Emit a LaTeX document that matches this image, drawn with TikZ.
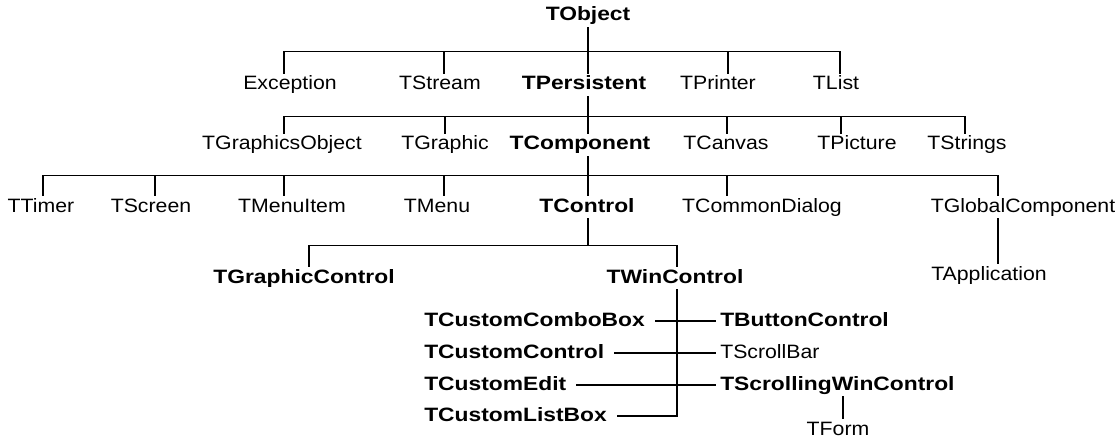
\documentclass[tikz,border=0pt]{standalone}
\usepackage{fontspec}
\setmainfont[FakeStretch=1.1, BoldFeatures={FakeStretch=1.18}]{Liberation Sans}

\begin{document}
\begin{tikzpicture}[
x=0.75pt, y=-0.75pt,
cls/.style={inner sep=1.5pt, text height=10.5pt, text depth=3pt, font=\fontsize{14.5}{17}\selectfont},
bcls/.style={cls, font=\fontsize{14.5}{17}\selectfont\bfseries},
link/.style={line width=1.1pt}
]
\useasboundingbox (0,0) rectangle (1116,442);

% level 0 and 1
\node[bcls] (tobject) at (588,16) {TObject};
\node[cls] (exception) at (290,85) {Exception};
\node[cls] (tstream) at (440,85) {TStream};
\node[bcls] (tpersistent) at (584,85) {TPersistent};
\node[cls] (tprinter) at (718,85) {TPrinter};
\node[cls] (tlist) at (836,85) {TList};

% level 2
\node[cls] (tgraphicsobject) at (282,145) {TGraphicsObject};
\node[cls] (tgraphic) at (445,145) {TGraphic};
\node[bcls] (tcomponent) at (580,145) {TComponent};
\node[cls] (tcanvas) at (726,145) {TCanvas};
\node[cls] (tpicture) at (857,145) {TPicture};
\node[cls] (tstrings) at (967,145) {TStrings};

% level 3
\node[cls] (ttimer) at (41,207) {TTimer};
\node[cls] (tscreen) at (151,207) {TScreen};
\node[cls] (tmenuitem) at (292,207) {TMenuItem};
\node[cls] (tmenu) at (437,207) {TMenu};
\node[bcls] (tcontrol) at (587,207) {TControl};
\node[cls] (tcommondialog) at (762,207) {TCommonDialog};
\node[cls] (tglobalcomponent) at (1023,207) {TGlobalComponent};

% level 4
\node[bcls] (tgraphiccontrol) at (304,278) {TGraphicControl};
\node[bcls] (twincontrol) at (675,278) {TWinControl};
\node[cls] (tapplication) at (989,275) {TApplication};

% below TWinControl
\node[bcls, anchor=west] (tcustomcombobox) at (422,321) {TCustomComboBox};
\node[bcls, anchor=west] (tcustomcontrol) at (422,353) {TCustomControl};
\node[bcls, anchor=west] (tcustomedit) at (422,385) {TCustomEdit};
\node[bcls, anchor=west] (tcustomlistbox) at (422,416) {TCustomListBox};
\node[bcls, anchor=west] (tbuttoncontrol) at (718,321) {TButtonControl};
\node[cls, anchor=west] (tscrollbar) at (718,353) {TScrollBar};
\node[bcls, anchor=west] (tscrollingwincontrol) at (718,385) {TScrollingWinControl};
\node[cls] (tform) at (838,430) {TForm};

% TObject
\draw[link] (tobject.south) -- ++(0,24) -| ([xshift=-4.5pt]exception.north);
\draw[link] (tobject.south) -- ++(0,24) -| ([xshift=3pt]tstream.north);
\draw[link] (tobject.south) -- ([xshift=3pt]tpersistent.north);
\draw[link] (tobject.south) -- ++(0,24) -| ([xshift=7.5pt]tprinter.north);
\draw[link] (tobject.south) -- ++(0,24) -| ([xshift=3pt]tlist.north);

% TPersistent
\draw[link] ([xshift=3pt]tpersistent.south) -- ++(0,20) -| ([xshift=1.5pt]tgraphicsobject.north);
\draw[link] ([xshift=3pt]tpersistent.south) -- ++(0,20) -| (tgraphic.north);
\draw[link] ([xshift=3pt]tpersistent.south) -- ++(0,20) -| ([xshift=6pt]tcomponent.north);
\draw[link] ([xshift=3pt]tpersistent.south) -- ++(0,20) -| ([xshift=0.75pt]tcanvas.north);
\draw[link] ([xshift=3pt]tpersistent.south) -- ++(0,20) -| ([xshift=-12pt]tpicture.north);
\draw[link] ([xshift=3pt]tpersistent.south) -- ++(0,20) -| ([xshift=-1.5pt]tstrings.north);

% TComponent
\draw[link] ([xshift=6pt]tcomponent.south) -- ++(0,19) -| ([xshift=1.5pt]ttimer.north);
\draw[link] ([xshift=6pt]tcomponent.south) -- ++(0,19) -| ([xshift=3pt]tscreen.north);
\draw[link] ([xshift=6pt]tcomponent.south) -- ++(0,19) -| ([xshift=-6pt]tmenuitem.north);
\draw[link] ([xshift=6pt]tcomponent.south) -- ++(0,19) -| ([xshift=5.25pt]tmenu.north);
\draw[link] ([xshift=6pt]tcomponent.south) -- ++(0,19) -| ([xshift=0.75pt]tcontrol.north);
\draw[link] ([xshift=6pt]tcomponent.south) -- ++(0,19) -| ([xshift=-26.25pt]tcommondialog.north);
\draw[link] ([xshift=6pt]tcomponent.south) -- ++(0,19) -| ([xshift=-18.75pt]tglobalcomponent.north);

% TControl
\draw[link] ([xshift=0.75pt]tcontrol.south) -- ++(0,27) -| ([xshift=3.75pt]tgraphiccontrol.north);
\draw[link] ([xshift=0.75pt]tcontrol.south) -- ++(0,27) -| ([xshift=1.5pt]twincontrol.north);
\draw[link] ([xshift=-18.75pt]tglobalcomponent.south) -- ([xshift=6.75pt]tapplication.north);

% TWinControl
\draw[link] ([xshift=1.5pt]twincontrol.south) |- ([xshift=6pt]tcustomlistbox.east);
\draw[link] ([xshift=6pt]tcustomcombobox.east) -- ([xshift=-1.5pt]tbuttoncontrol.west);
\draw[link] ([xshift=6pt]tcustomcontrol.east) -- ([xshift=-1.5pt]tscrollbar.west);
\draw[link] ([xshift=6pt]tcustomedit.east) -- ([xshift=-1.5pt]tscrollingwincontrol.west);
\draw[link] ([xshift=3.75pt]tform.north) -- ([xshift=3.75pt]tform.north |- tscrollingwincontrol.south);
\end{tikzpicture}
\end{document}
